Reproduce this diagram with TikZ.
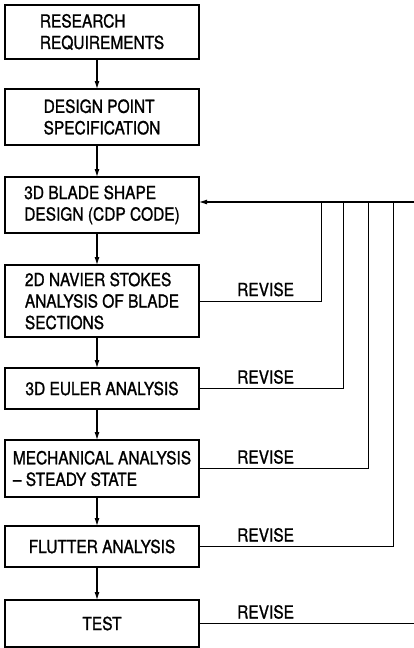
\documentclass[tikz,border=0pt]{standalone}
\usepackage{fontspec}
\setmainfont[FakeStretch=0.86,FakeBold=1.2]{TeX Gyre Heros}
\usetikzlibrary{arrows.meta,positioning}
\tikzset{
  fc_box/.style={rectangle,draw=black,line width=2.2pt,fill=white,
    minimum width=194pt,align=left,inner sep=4pt,outer sep=0pt,
    font=\fontsize{18}{21.5}\selectfont},
  fc_rev/.style={anchor=base west,inner sep=0pt,
    font=\fontsize{18}{21.5}\selectfont},
  arr/.style={-{Latex[length=8pt,width=5pt]},line width=1.1pt,draw=black},
  fb/.style={line width=1pt,draw=black},
}

\begin{document}
\begin{tikzpicture}[x=1pt,y=1pt,node distance=31pt]
  \useasboundingbox (0,0) rectangle (413,-648);
  \node (req) [fc_box,minimum height=54pt] at (102,-32) {RESEARCH\\REQUIREMENTS};
  \node (dpt) [fc_box,minimum height=56pt,below=30pt of req] {DESIGN POINT\\SPECIFICATION};
  \node (bld) [fc_box,minimum height=56pt,below=32pt of dpt] {3D BLADE SHAPE\\DESIGN (CDP CODE)};
  \node (nav) [fc_box,minimum height=72pt,below=32pt of bld] {2D NAVIER STOKES\\ANALYSIS OF BLADE\\SECTIONS};
  \node (eul) [fc_box,minimum height=41pt,below=31pt of nav] {3D EULER ANALYSIS};
  \node (mech) [fc_box,minimum height=57pt,below=31pt of eul] {MECHANICAL ANALYSIS\\-- STEADY STATE};
  \node (flut) [fc_box,minimum height=41pt,below=29pt of mech] {FLUTTER ANALYSIS};
  \node (test) [fc_box,minimum height=47pt,below=33pt of flut] {TEST};
  % main flow
  \coordinate (ax) at (97,0);
  \draw[arr] (req.south -| ax) -- (dpt.north -| ax);
  \draw[arr] (dpt.south -| ax) -- (bld.north -| ax);
  \draw[arr] (bld.south -| ax) -- (nav.north -| ax);
  \draw[arr] (nav.south -| ax) -- (eul.north -| ax);
  \draw[arr] (eul.south -| ax) -- (mech.north -| ax);
  \draw[arr] (mech.south -| ax) -- (flut.north -| ax);
  \draw[arr] (flut.south -| ax) -- (test.north -| ax);
  % revise loops
  \coordinate (v1) at (321,-202);
  \coordinate (v2) at (343,-202);
  \coordinate (v3) at (368,-202);
  \coordinate (v4) at (393,-202);
  \coordinate (v5) at (414,-202);
  \draw[fb] (nav.east) -| (v1);
  \draw[fb] (eul.east) -| (v2);
  \draw[fb] (mech.east) -| (v3);
  \draw[fb] (flut.east) -| (v4);
  \draw[fb] (test.east) -| (v5);
  \draw[arr] (v5) -- (v1 -| bld.east);
  \node (r1) [fc_rev] at ([xshift=38pt,yshift=5pt]nav.east) {REVISE};
  \node (r2) [fc_rev] at ([xshift=38pt,yshift=5pt]eul.east) {REVISE};
  \node (r3) [fc_rev] at ([xshift=38pt,yshift=5pt]mech.east) {REVISE};
  \node (r4) [fc_rev] at ([xshift=38pt,yshift=5pt]flut.east) {REVISE};
  \node (r5) [fc_rev] at ([xshift=38pt,yshift=5pt]test.east) {REVISE};
\end{tikzpicture}
\end{document}
